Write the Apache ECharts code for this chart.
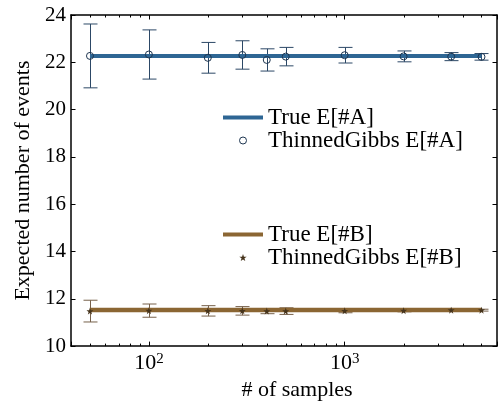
<!DOCTYPE html>
<html>
<head>
<meta charset="utf-8">
<script src="https://cdn.jsdelivr.net/npm/echarts@6/dist/echarts.min.js"></script>
<style>html,body{margin:0;padding:0;background:#fff;}#c{width:500px;height:406px;}</style>
</head>
<body>
<div id="c"></div>
<script>
// ---- data ----
var samples = [50, 100, 200, 300, 400, 500, 1000, 2000, 3500, 5000];
var trueA = 22.27;
var meanA = [22.27, 22.33, 22.19, 22.31, 22.10, 22.24, 22.30, 22.25, 22.24, 22.23];
var errA  = [1.35, 1.04, 0.65, 0.60, 0.47, 0.39, 0.33, 0.23, 0.17, 0.14];
var trueB = 11.53;
var meanB = [11.48, 11.50, 11.49, 11.49, 11.48, 11.48, 11.49, 11.50, 11.52, 11.52];
var errB  = [0.46, 0.28, 0.22, 0.18, 0.11, 0.14, 0.08, 0.05, 0.04, 0.04];
var yTicks = [10, 12, 14, 16, 18, 20, 22, 24];
var xMajor = [100, 1000];
var xMinor = [50, 60, 70, 80, 90, 200, 300, 400, 500, 600, 700, 800, 900, 2000, 3000, 4000, 5000];
var names = ['True E[#A]', 'ThinnedGibbs E[#A]', 'True E[#B]', 'ThinnedGibbs E[#B]'];

var serif = 'Liberation Serif';
var colA = '#2e6694', colAm = '#1d3550', colAe = '#2c4866';
var colB = '#8b6633', colBm = '#46341c', colBe = '#76604a';
var star = 'path://M0,-5 L1.2,-1.6 L4.8,-1.5 L1.9,0.6 L2.9,4 L0,2 L-2.9,4 L-1.9,0.6 L-4.8,-1.5 L-1.2,-1.6 Z';

function errData(mean, err) {
  return samples.map(function (s, i) { return [s, mean[i] - err[i], mean[i] + err[i]]; });
}
function errRender(color) {
  return function (params, api) {
    var top = api.coord([api.value(0), api.value(2)]);
    var bot = api.coord([api.value(0), api.value(1)]);
    var x = Math.round(top[0]) + 0.5, c = 7;
    var st = { stroke: color, lineWidth: 1 };
    return { type: 'group', children: [
      { type: 'line', shape: { x1: x, y1: top[1], x2: x, y2: bot[1] }, style: st },
      { type: 'line', shape: { x1: x - c, y1: top[1], x2: x + c, y2: top[1] }, style: st },
      { type: 'line', shape: { x1: x - c, y1: bot[1], x2: x + c, y2: bot[1] }, style: st }
    ]};
  };
}
function minorRender(params, api) {
  var v = api.value(0);
  var b = api.coord([v, yTicks[0]]);
  var t = api.coord([v, yTicks[yTicks.length - 1]]);
  var x = Math.round(b[0]) + 0.5;
  var st = { stroke: '#000', lineWidth: 1 };
  return { type: 'group', children: [
    { type: 'line', shape: { x1: x, y1: b[1], x2: x, y2: b[1] - 2.5 }, style: st },
    { type: 'line', shape: { x1: x, y1: t[1], x2: x, y2: t[1] + 2.5 }, style: st }
  ]};
}
function xLabel(v) {
  for (var i = 0; i < xMajor.length; i++) {
    if (Math.abs(v - xMajor[i]) / xMajor[i] < 1e-6) {
      return '{b|10}{e|' + Math.round(Math.log10(xMajor[i])) + '}';
    }
  }
  return '';
}

var xBase = {
  type: 'log', logBase: 10, min: 40, max: 6000,
  axisLine: { show: true, lineStyle: { color: '#000', width: 1.5 } },
  axisTick: { show: true, inside: true, length: 4.5, lineStyle: { color: '#000', width: 1 } },
  splitLine: { show: false }, minorTick: { show: false }
};
var yBase = {
  type: 'value', min: yTicks[0], max: yTicks[yTicks.length - 1], interval: 2,
  axisLine: { show: true, lineStyle: { color: '#000', width: 1.5 } },
  axisTick: { show: true, inside: true, length: 4.5, lineStyle: { color: '#000', width: 1 } },
  splitLine: { show: false }
};

var chart = echarts.init(document.getElementById('c'), null, { renderer: 'canvas' });
chart.setOption({
  animation: false,
  backgroundColor: '#fff',
  grid: { left: 71, top: 15, width: 431, height: 338, containLabel: false },
  xAxis: [
    Object.assign({}, xBase, {
      position: 'bottom',
      name: '# of samples', nameLocation: 'middle', nameGap: 32,
      nameTextStyle: { fontFamily: serif, fontSize: 22, color: '#000', padding: [0, 0, 0, 26] },
      axisLabel: {
        show: true, margin: 5, formatter: xLabel, color: '#000',
        rich: {
          b: { fontFamily: serif, fontSize: 22, color: '#000' },
          e: { fontFamily: serif, fontSize: 15, color: '#000', padding: [0, 0, 9, 0] }
        }
      }
    }),
    Object.assign({}, xBase, { position: 'top', axisLabel: { show: false } })
  ],
  yAxis: [
    Object.assign({}, yBase, {
      position: 'left',
      name: 'Expected number of events', nameLocation: 'middle', nameGap: 37, nameRotate: 90,
      nameTextStyle: { fontFamily: serif, fontSize: 22, color: '#000' },
      axisLabel: { show: true, margin: 5, fontFamily: serif, fontSize: 21, color: '#000' }
    }),
    Object.assign({}, yBase, { position: 'right', axisLabel: { show: false } })
  ],
  legend: [
    {
      orient: 'vertical', left: 223, top: 106, padding: 0, itemGap: 0, itemWidth: 40, itemHeight: 7,
      symbolKeepAspect: true, selectedMode: false,
      textStyle: { fontFamily: serif, fontSize: 23, color: '#000', lineHeight: 23 },
      data: [
        { name: names[0], icon: 'path://M0,0H40V4H0Z', itemStyle: { color: colA } },
        { name: names[1], icon: 'circle', itemStyle: { color: 'rgba(0,0,0,0)', borderColor: colAm, borderWidth: 1 } }
      ]
    },
    {
      orient: 'vertical', left: 223, top: 223, padding: 0, itemGap: 0, itemWidth: 40, itemHeight: 7,
      symbolKeepAspect: true, selectedMode: false,
      textStyle: { fontFamily: serif, fontSize: 23, color: '#000', lineHeight: 23 },
      data: [
        { name: names[2], icon: 'path://M0,0H40V4H0Z', itemStyle: { color: colB } },
        { name: names[3], icon: star, itemStyle: { color: colBm } }
      ]
    }
  ],
  series: [
    { type: 'custom', name: 'minorTicks', renderItem: minorRender, data: xMinor.map(function (v) { return [v]; }),
      xAxisIndex: 0, yAxisIndex: 0, silent: true, z: 5, clip: false },
    { type: 'custom', name: 'errA', renderItem: errRender(colAe), data: errData(meanA, errA), z: 1, silent: true },
    { type: 'custom', name: 'errB', renderItem: errRender(colBe), data: errData(meanB, errB), z: 1, silent: true },
    { type: 'line', name: names[0], data: [[samples[0], trueA], [samples[samples.length - 1], trueA]],
      symbol: 'none', lineStyle: { color: colA, width: 4 }, itemStyle: { color: colA }, z: 2 },
    { type: 'line', name: names[2], data: [[samples[0], trueB], [samples[samples.length - 1], trueB]],
      symbol: 'none', lineStyle: { color: colB, width: 4.5 }, itemStyle: { color: colB }, z: 2 },
    { type: 'scatter', name: names[1], data: samples.map(function (s, i) { return [s, meanA[i]]; }),
      symbol: 'circle', symbolSize: 7,
      itemStyle: { color: 'rgba(0,0,0,0)', borderColor: colAm, borderWidth: 1, opacity: 1 }, z: 3 },
    { type: 'scatter', name: names[3], data: samples.map(function (s, i) { return [s, meanB[i]]; }),
      symbol: star, symbolSize: 7, itemStyle: { color: colBm, opacity: 1 }, z: 3 }
  ]
});
</script>
</body>
</html>
